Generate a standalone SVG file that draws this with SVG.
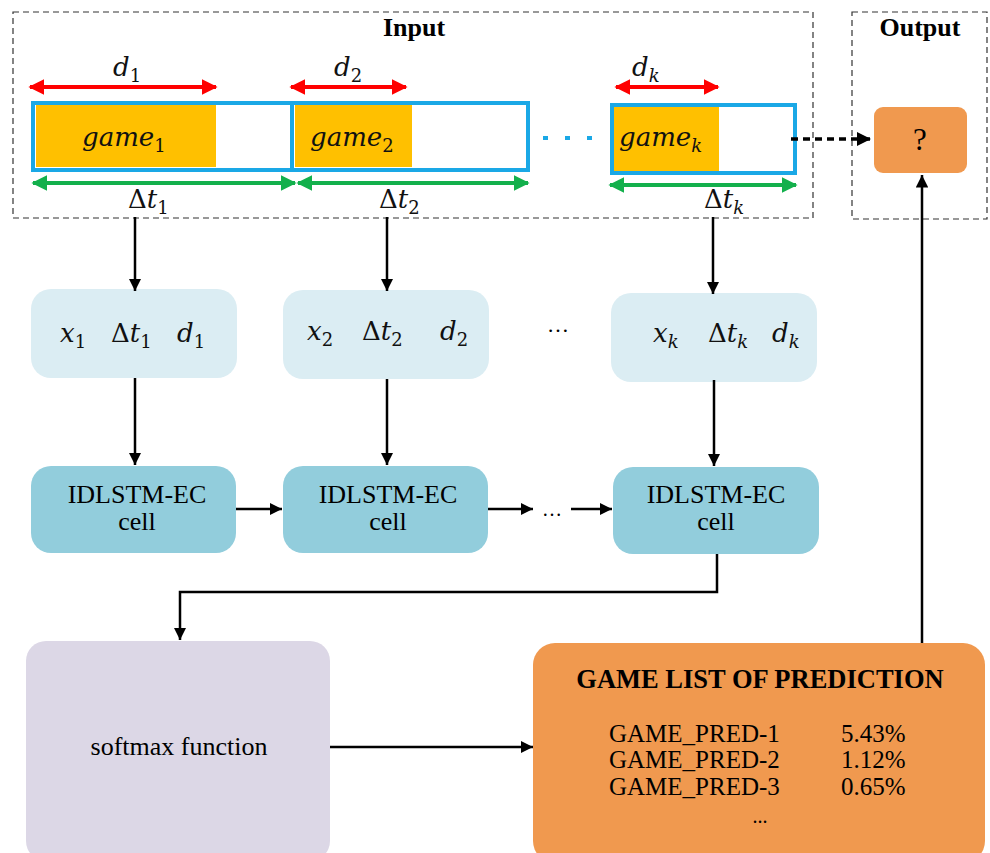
<svg xmlns="http://www.w3.org/2000/svg" width="990" height="853" viewBox="0 0 990 853">
<defs>
<marker id="ah" viewBox="0 0 10 10" refX="10" refY="5" markerWidth="5" markerHeight="5" markerUnits="strokeWidth" orient="auto"><path d="M0,0 L10,5 L0,10 z" fill="#000"/></marker>
<marker id="ahb" viewBox="0 0 10 10" refX="10" refY="5" markerWidth="4" markerHeight="5" markerUnits="strokeWidth" orient="auto"><path d="M0,0 L10,5 L0,10 z" fill="#000"/></marker>
<marker id="ar" viewBox="0 0 10 10" refX="9" refY="5" markerWidth="4" markerHeight="4" markerUnits="strokeWidth" orient="auto-start-reverse"><path d="M0,0 L10,5 L0,10 z" fill="#ff0000"/></marker>
<marker id="ag" viewBox="0 0 10 10" refX="9" refY="5" markerWidth="4" markerHeight="4" markerUnits="strokeWidth" orient="auto-start-reverse"><path d="M0,0 L10,5 L0,10 z" fill="#13b04c"/></marker>
</defs>
<style>
.math{font-family:"DejaVu Serif","Liberation Serif",serif;font-style:italic;font-size:26px;fill:#111}
.up{font-style:normal}
.sub{font-size:18px;font-style:normal}
.subi{font-size:18px}
.tnr{font-family:"Liberation Serif","Times New Roman",serif;fill:#000;font-size:26px}
.row{font-size:25px}
.bold{font-weight:bold}
.dash{fill:none;stroke:#333;stroke-width:1.2;stroke-dasharray:6,4}
.bar{fill:#fff;stroke:#1aa8e6;stroke-width:4}
.gm{fill:#ffc000}
.xbox{fill:#dbedf3}
.cell{fill:#92cddc}
.conn{fill:none;stroke:#000;stroke-width:2.5}
.red{stroke:#ff0000;stroke-width:4;fill:none}
.green{stroke:#13b04c;stroke-width:4;fill:none}
</style>
<rect width="990" height="853" fill="#fff"/>

<g id="input-frame">
<rect class="dash" x="13" y="12" width="800" height="206"/>
<text class="tnr bold" x="414" y="36" text-anchor="middle">Input</text>
</g>
<g id="output-frame">
<rect class="dash" x="852" y="12" width="135" height="207"/>
<text class="tnr bold" x="920" y="36" text-anchor="middle">Output</text>
</g>

<g id="game1">
<rect class="bar" x="33" y="103" width="259" height="67"/>
<rect class="gm" x="36" y="105" width="180" height="62"/>
<text class="math" x="82" y="146">game<tspan class="sub" dy="6">1</tspan></text>
<line class="red" x1="30" y1="87" x2="216" y2="87" marker-start="url(#ar)" marker-end="url(#ar)"/>
<text class="math" x="113" y="76">d<tspan class="sub" dy="6">1</tspan></text>
<line class="green" x1="33" y1="183" x2="295" y2="183" marker-start="url(#ag)" marker-end="url(#ag)"/>
<text class="math" x="128" y="208"><tspan class="up">Δ</tspan>t<tspan class="sub" dy="6">1</tspan></text>
</g>
<g id="game2">
<rect class="bar" x="292" y="103" width="236" height="67"/>
<rect class="gm" x="295" y="105" width="117" height="62"/>
<text class="math" x="310" y="146">game<tspan class="sub" dy="6">2</tspan></text>
<line class="red" x1="291" y1="87" x2="406" y2="87" marker-start="url(#ar)" marker-end="url(#ar)"/>
<text class="math" x="334" y="76">d<tspan class="sub" dy="6">2</tspan></text>
<line class="green" x1="298" y1="183" x2="528" y2="183" marker-start="url(#ag)" marker-end="url(#ag)"/>
<text class="math" x="379" y="208"><tspan class="up">Δ</tspan>t<tspan class="sub" dy="6">2</tspan></text>
</g>
<g id="dots-top" fill="#1aa8e6">
<rect x="543" y="136" width="5" height="4"/>
<rect x="565" y="136" width="5" height="4"/>
<rect x="587" y="136" width="5" height="4"/>
</g>
<g id="gamek">
<rect class="bar" x="612" y="105" width="183" height="68"/>
<rect class="gm" x="614" y="107" width="105" height="64"/>
<text class="math" x="619" y="146">game<tspan class="subi" dy="6">k</tspan></text>
<line class="red" x1="616" y1="87" x2="718" y2="87" marker-start="url(#ar)" marker-end="url(#ar)"/>
<text class="math" x="632" y="76">d<tspan class="subi" dy="6">k</tspan></text>
<line class="green" x1="610" y1="185" x2="796" y2="185" marker-start="url(#ag)" marker-end="url(#ag)"/>
<text class="math" x="704" y="208"><tspan class="up">Δ</tspan>t<tspan class="subi" dy="6">k</tspan></text>
</g>

<g id="out-q">
<rect x="874" y="107" width="93" height="66" rx="9" fill="#f0994f"/>
<text class="tnr" x="920" y="150" text-anchor="middle" style="font-size:31px">?</text>
</g>

<g id="x1">
<rect class="xbox" x="31" y="289" width="206" height="89" rx="20"/>
<text class="math" y="342"><tspan x="60">x</tspan><tspan class="sub" dy="6">1</tspan><tspan x="111" dy="-6" class="up">Δ</tspan><tspan>t</tspan><tspan class="sub" dy="6">1</tspan><tspan x="177" dy="-6">d</tspan><tspan class="sub" dy="6">1</tspan></text>
</g>
<g id="x2">
<rect class="xbox" x="283" y="290" width="206" height="89" rx="20"/>
<text class="math" y="340"><tspan x="307">x</tspan><tspan class="sub" dy="6">2</tspan><tspan x="362" dy="-6" class="up">Δ</tspan><tspan>t</tspan><tspan class="sub" dy="6">2</tspan><tspan x="440" dy="-6">d</tspan><tspan class="sub" dy="6">2</tspan></text>
</g>
<text class="tnr" x="558" y="332" text-anchor="middle" style="font-size:22px">…</text>
<g id="xk">
<rect class="xbox" x="611" y="293" width="206" height="89" rx="20"/>
<text class="math" y="342"><tspan x="653">x</tspan><tspan class="subi" dy="6">k</tspan><tspan x="708" dy="-6" class="up">Δ</tspan><tspan>t</tspan><tspan class="subi" dy="6">k</tspan><tspan x="772" dy="-6">d</tspan><tspan class="subi" dy="6">k</tspan></text>
</g>

<g id="cell1">
<rect class="cell" x="31" y="466" width="205" height="87" rx="20"/>
<text class="tnr" x="137" y="503" text-anchor="middle">IDLSTM-EC</text>
<text class="tnr" x="137" y="530" text-anchor="middle">cell</text>
</g>
<g id="cell2">
<rect class="cell" x="283" y="466" width="205" height="87" rx="20"/>
<text class="tnr" x="388" y="503" text-anchor="middle">IDLSTM-EC</text>
<text class="tnr" x="388" y="530" text-anchor="middle">cell</text>
</g>
<text class="tnr" x="552" y="516" text-anchor="middle" style="font-size:20px">…</text>
<g id="cellk">
<rect class="cell" x="613" y="467" width="206" height="87" rx="20"/>
<text class="tnr" x="716" y="503" text-anchor="middle">IDLSTM-EC</text>
<text class="tnr" x="716" y="530" text-anchor="middle">cell</text>
</g>

<g id="softmax">
<rect x="26" y="641" width="304" height="220" rx="20" fill="#dcd7e6"/>
<text class="tnr" x="179" y="755" text-anchor="middle">softmax function</text>
</g>

<g id="gamelist">
<rect x="533" y="643" width="452" height="220" rx="22" fill="#f0994f"/>
<text class="tnr bold" x="760" y="688" text-anchor="middle" style="font-size:26.5px">GAME LIST OF PREDICTION</text>
<text class="tnr row"><tspan x="609" y="742">GAME_PRED-1</tspan><tspan x="609" y="768">GAME_PRED-2</tspan><tspan x="609" y="795">GAME_PRED-3</tspan></text>
<text class="tnr row"><tspan x="841" y="742">5.43%</tspan><tspan x="841" y="768">1.12%</tspan><tspan x="841" y="795">0.65%</tspan></text>
<text class="tnr" x="760" y="823" text-anchor="middle" style="font-size:20px">...</text>
</g>

<g id="connectors">
<line class="conn" x1="135" y1="217" x2="135" y2="291" marker-end="url(#ah)"/>
<line class="conn" x1="387" y1="217" x2="387" y2="291" marker-end="url(#ah)"/>
<line class="conn" x1="713" y1="217" x2="713" y2="294" marker-end="url(#ah)"/>
<line class="conn" x1="135" y1="378" x2="135" y2="465" marker-end="url(#ah)"/>
<line class="conn" x1="387" y1="379" x2="387" y2="465" marker-end="url(#ah)"/>
<line class="conn" x1="714" y1="380" x2="714" y2="466" marker-end="url(#ah)"/>
<line class="conn" x1="236" y1="509" x2="282" y2="509" marker-end="url(#ah)"/>
<line class="conn" x1="488" y1="509" x2="533" y2="509" marker-end="url(#ah)"/>
<line class="conn" x1="571" y1="509" x2="612" y2="509" marker-end="url(#ah)"/>
<polyline class="conn" points="717,554 717,592 180,592 180,640" marker-end="url(#ah)"/>
<line class="conn" x1="330" y1="747" x2="533" y2="747" marker-end="url(#ah)"/>
<line class="conn" x1="922" y1="643" x2="922" y2="175" marker-end="url(#ah)"/>
<line x1="791" y1="139" x2="871" y2="139" stroke="#000" stroke-width="3.5" stroke-dasharray="7,5" marker-end="url(#ahb)"/>
</g>
</svg>
